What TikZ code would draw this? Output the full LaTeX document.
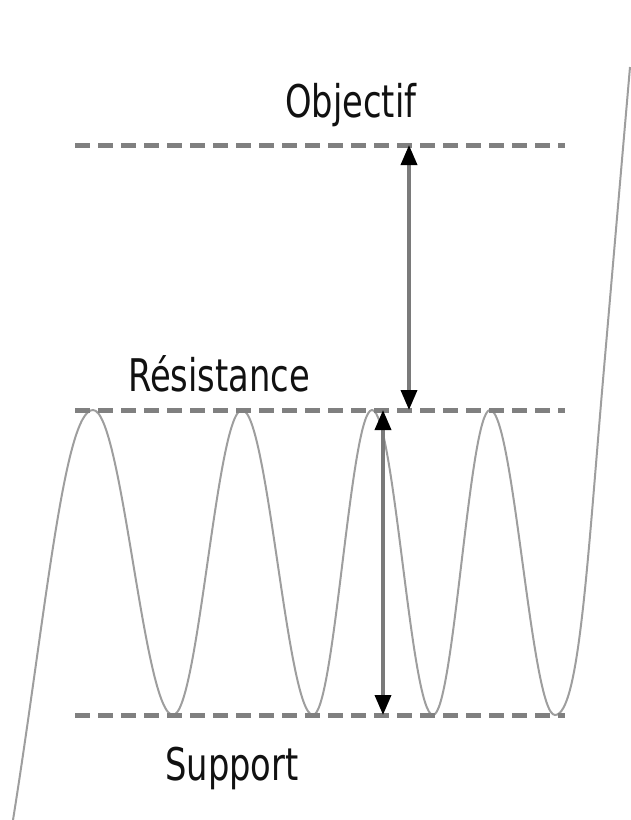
\documentclass[tikz,border=0pt]{standalone}
\usepackage{fontspec}
\usepackage{xcolor}
\usepackage{tikz}
\usetikzlibrary{arrows.meta}
\newfontfamily\chartfont[FakeStretch=0.75]{DejaVu Sans}
\definecolor{ChartLevel}{HTML}{808080}
\definecolor{ChartWave}{HTML}{9E9E9E}
\definecolor{ChartShaft}{HTML}{7A7A7A}
\definecolor{ChartInk}{HTML}{111111}

\begin{document}
\begin{tikzpicture}[x=1pt,y=-1pt,
  levelline/.style={draw=ChartLevel,line width=5pt,dash pattern=on 15pt off 8pt},
  waveline/.style={draw=ChartWave,line width=2pt},
  gapline/.style={draw=ChartShaft,line width=3.5pt,
    {Triangle[length=20pt,width=16pt,color=black]}-{Triangle[length=20pt,width=16pt,color=black]}},
  levellabel/.style={anchor=base west,inner sep=0pt,text=ChartInk,font=\chartfont\fontsize{45}{45}\selectfont}]
\useasboundingbox (0,0) rectangle (630,820);
\coordinate (objL) at (75,145); \coordinate (objR) at (565,145);
\coordinate (resL) at (75,410); \coordinate (resR) at (565,410);
\coordinate (supL) at (75,715); \coordinate (supR) at (565,715);
\node[levellabel] (objectif) at (285,117) {Objectif};
\node[levellabel] (resistance) at (128,391) {Résistance};
\node[levellabel] (support) at (165,780) {Support};
\draw[waveline] (13,820) .. controls (45,620) and (64,410) .. (93,410)
  .. controls (122.1,410) and (143.9,715) .. (173,715)
  .. controls (198.1,715) and (216.9,410) .. (242,410)
  .. controls (267.8,410) and (287.2,715) .. (313,715)
  .. controls (334.4,715) and (350.6,410) .. (372,410)
  .. controls (394.2,410) and (410.8,715) .. (433,715)
  .. controls (453.7,715) and (469.3,410) .. (490,410)
  .. controls (513.6,410) and (531.4,715) .. (555,715)
  .. controls (579,715) and (587.5,560) .. (603,380) -- (630,67);
\draw[levelline] (objL) -- (objR);
\draw[levelline] (resL) -- (resR);
\draw[levelline] (supL) -- (supR);
\coordinate (upTop) at (409,145); \coordinate (upBot) at (409,410);
\coordinate (lowTop) at (383,410); \coordinate (lowBot) at (383,715);
\draw[gapline] (upTop) -- (upBot);
\draw[gapline] (lowTop) -- (lowBot);
\end{tikzpicture}
\end{document}
